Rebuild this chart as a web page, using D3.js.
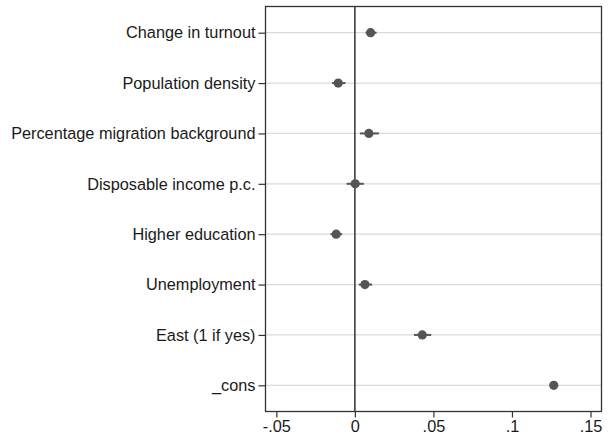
<!DOCTYPE html>
<html>
<head>
    <meta charset="utf-8">
    <script src="https://d3js.org/d3.v7.min.js"></script>
    <style>
        body { margin: 0; background: #fff; }
        text { font-family: "Liberation Sans", Arial, Helvetica, sans-serif; fill: #1a1a1a; }
    </style>
</head>
<body>
    <script>
        const labels = ['Change in turnout', 'Population density', 'Percentage migration background',
            'Disposable income p.c.', 'Higher education', 'Unemployment', 'East (1 if yes)', '_cons']
        const coef = [0.010, -0.0106, 0.0089, 0.0002, -0.0119, 0.0064, 0.0429, 0.1266]
        const lower = [0.0068, -0.0145, 0.0032, -0.0053, -0.0155, 0.0025, 0.0376, 0.1255]
        const upper = [0.0138, -0.006, 0.0153, 0.0057, -0.0081, 0.011, 0.0486, 0.1277]
        const xTicks = [-0.05, 0, 0.05, 0.1, 0.15]
        const xTickLabels = ['-.05', '0', '.05', '.1', '.15']

        const data = labels.map((l, i) => ({ label: l, b: coef[i], lo: lower[i], hi: upper[i] }))

        const width = 608
        const height = 440
        const plotL = 265.5, plotR = 601.5, plotT = 6.5, plotB = 411.5

        const svg = d3.select('body').append('svg').attr('width', width).attr('height', height)

        const x = d3.scaleLinear().domain([-0.0569, 0.157]).range([plotL, plotR])
        const y = d3.scalePoint().domain(labels).range([plotT, plotB]).padding(0.52)

        // grid lines
        svg.append('g').selectAll('line').data(labels).join('line')
            .attr('x1', plotL).attr('x2', plotR)
            .attr('y1', d => y(d)).attr('y2', d => y(d))
            .style('stroke', '#dadada').style('stroke-width', 1.3)

        // zero line
        svg.append('line')
            .attr('x1', x(0)).attr('x2', x(0)).attr('y1', plotT).attr('y2', plotB)
            .style('stroke', '#333').style('stroke-width', 1.5)

        // frame
        svg.append('rect')
            .attr('x', plotL).attr('y', plotT).attr('width', plotR - plotL).attr('height', plotB - plotT)
            .style('fill', 'none').style('stroke', '#333').style('stroke-width', 1.3)

        // axes
        const axisY = d3.axisLeft(y).tickSize(7).tickPadding(3)
        const gy = svg.append('g').attr('transform', 'translate(' + plotL + ',0)').call(axisY)
        gy.select('.domain').remove()
        gy.selectAll('line').style('stroke', '#333').style('stroke-width', 1.2)
        gy.selectAll('text').style('font-size', '16.3px').style('fill', '#1a1a1a')

        const axisX = d3.axisBottom(x).tickValues(xTicks).tickSize(6).tickPadding(3)
            .tickFormat((d, i) => xTickLabels[i])
        const gx = svg.append('g').attr('transform', 'translate(0,' + plotB + ')').call(axisX)
        gx.select('.domain').remove()
        gx.selectAll('line').style('stroke', '#333').style('stroke-width', 1.2)
        gx.selectAll('text').style('font-size', '16.3px').style('fill', '#1a1a1a')

        // confidence intervals
        svg.append('g').selectAll('line').data(data).join('line')
            .attr('x1', d => x(d.lo)).attr('x2', d => x(d.hi))
            .attr('y1', d => y(d.label)).attr('y2', d => y(d.label))
            .style('stroke', '#555').style('stroke-width', 2)

        // point estimates
        svg.append('g').selectAll('circle').data(data).join('circle')
            .attr('cx', d => x(d.b)).attr('cy', d => y(d.label)).attr('r', 4.6)
            .style('fill', '#555')
    </script>
</body>
</html>
